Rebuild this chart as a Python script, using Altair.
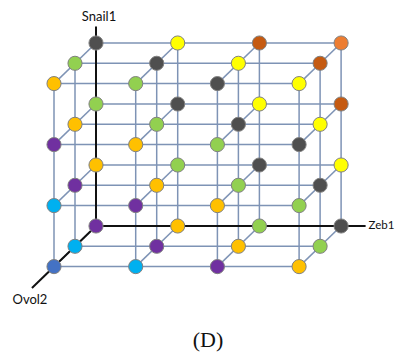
import altair as alt
import pandas as pd

# ---- data -------------------------------------------------------------
# node states, listed by Snail1 level (bottom -> top), then Ovol2 depth (back -> front),
# then Zeb1 position (left -> right)
node_states = [
    [["purple", "gold", "green", "dark"],
     ["cyan", "purple", "gold", "green"],
     ["blue", "cyan", "purple", "gold"]],
    [["gold", "green", "dark", "yellow"],
     ["purple", "gold", "green", "dark"],
     ["cyan", "purple", "gold", "green"]],
    [["green", "dark", "yellow", "brown"],
     ["gold", "green", "dark", "yellow"],
     ["purple", "gold", "green", "dark"]],
    [["dark", "yellow", "brown", "orange"],
     ["green", "dark", "yellow", "brown"],
     ["gold", "green", "dark", "yellow"]],
]
state_names = ["blue", "cyan", "purple", "gold", "green", "dark", "yellow", "brown", "orange"]
state_colors = ["#4472C4", "#00B0F0", "#7030A0", "#FFC000", "#92D050",
                "#4F4F4F", "#FFFF00", "#C55A11", "#ED7D31"]

axis_names = ["Snail1", "Zeb1", "Ovol2"]
axis_end_zeb = [0, 3.30, 0]
axis_end_snail = [3.27, 0, 0]
axis_end_ovol = [0, 0, 3.05]

caption = "(D)"

# ---- projection (oblique view of the lattice) --------------------------
OX, OY = 96, 226
DX, DY = 81.7, 61
KX, KY = -21, 20.3


def px(i, j, k):
    return OX + DX * i + KX * k


def py(i, j, k):
    return OY - DY * j + KY * k


nodes = []
for j, level in enumerate(node_states):
    for k, row in enumerate(level):
        for i, s in enumerate(row):
            nodes.append(dict(zeb=i, snail=j, ovol=k, state=s,
                              x=px(i, j, k), y=py(i, j, k)))
nodes = pd.DataFrame(nodes)

NI, NJ, NK = 4, 4, 3
segs = []
for j in range(NJ):
    for k in range(NK):
        segs.append(dict(x=px(0, j, k), y=py(0, j, k), x2=px(NI - 1, j, k), y2=py(NI - 1, j, k), d="h"))
for i in range(NI):
    for k in range(NK):
        segs.append(dict(x=px(i, 0, k), y=py(i, 0, k), x2=px(i, NJ - 1, k), y2=py(i, NJ - 1, k), d="v"))
for i in range(NI):
    for j in range(NJ):
        segs.append(dict(x=px(i, j, 0), y=py(i, j, 0), x2=px(i, j, NK - 1), y2=py(i, j, NK - 1), d="k"))
segs = pd.DataFrame(segs)

axes = pd.DataFrame(dict(
    name=axis_names,
    x=[px(0, 0, 0)] * 3, y=[py(0, 0, 0)] * 3,
    x2=[px(a, b, c) for a, b, c in zip(axis_end_zeb, axis_end_snail, axis_end_ovol)],
    y2=[py(a, b, c) for a, b, c in zip(axis_end_zeb, axis_end_snail, axis_end_ovol)],
))

W, H = 387, 344
xs = alt.Scale(domain=[8, 8 + W])
ys = alt.Scale(domain=[8, 8 + H], reverse=True)


def X(f="x"):
    return alt.X(f + ":Q", scale=xs, axis=None)


def Y(f="y"):
    return alt.Y(f + ":Q", scale=ys, axis=None)


grid = alt.Chart(segs).mark_rule(color="#7E93B5", strokeWidth=1.5).encode(
    x=X(), y=Y(), x2="x2:Q", y2="y2:Q")

axis_lines = alt.Chart(axes).mark_rule(color="#111111", strokeWidth=2).encode(
    x=X(), y=Y(), x2="x2:Q", y2="y2:Q")

pts = alt.Chart(nodes).mark_circle(size=200, opacity=1, stroke="#808080", strokeWidth=1).encode(
    x=X(), y=Y(),
    color=alt.Color("state:N", scale=alt.Scale(domain=state_names, range=state_colors), legend=None))

lab_snail = alt.Chart(axes[axes.name == "Snail1"]).mark_text(
    font="Lato", fontSize=13, color="#111111", align="center", baseline="bottom", dx=3, dy=-3
).encode(x=X("x2"), y=Y("y2"), text="name:N")
lab_zeb = alt.Chart(axes[axes.name == "Zeb1"]).mark_text(
    font="Lato", fontSize=11.5, color="#111111", align="left", baseline="middle", dx=3
).encode(x=X("x2"), y=Y("y2"), text="name:N")
lab_ovol = alt.Chart(axes[axes.name == "Ovol2"]).mark_text(
    font="Lato", fontSize=13, color="#111111", align="center", baseline="top", dx=-2, dy=6
).encode(x=X("x2"), y=Y("y2"), text="name:N")

cap = alt.Chart(pd.DataFrame(dict(t=[caption]))).mark_text(
    font="Liberation Serif", fontSize=22, color="#111111", align="center", baseline="middle"
).encode(x=alt.value(200), y=alt.value(332), text="t:N")

chart = alt.layer(grid, axis_lines, pts, lab_snail, lab_zeb, lab_ovol, cap).properties(
    width=W, height=H, autosize="none", padding=0
).configure_view(stroke=None)

chart.save("out.html", embed_options={"renderer": "svg", "actions": False})
